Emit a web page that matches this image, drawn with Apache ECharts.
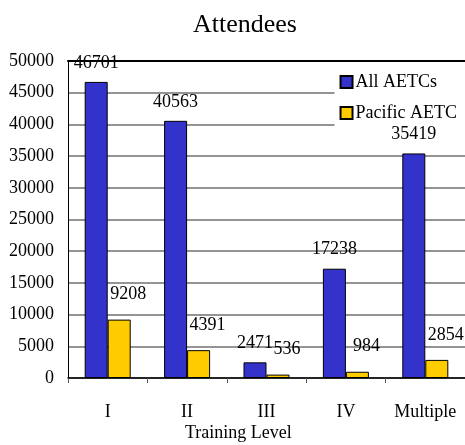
<!DOCTYPE html>
<html>
<head>
    <meta charset="utf-8" />
    <script src="https://cdn.jsdelivr.net/npm/echarts@6/dist/echarts.min.js"></script>
</head>
<body style="margin:0">
<div id="main" style="width: 465px;height:445px;"></div>
<script>
    var levels = ['I', 'II', 'III', 'IV', 'Multiple'];
    var allAetcs = [46701, 40563, 2471, 17238, 35419];
    var pacificAetc = [9208, 4391, 536, 984, 2854];
    var seriesNames = ['All AETCs', 'Pacific AETC'];

    var serif = 'Liberation Serif';
    var chartDom = document.getElementById('main');
    var myChart = echarts.init(chartDom);
    var option;

    option = {
        animation: false,
        title: [{
            text: 'Attendees',
            left: 188,
            top: 7,
            textStyle: { fontFamily: serif, fontSize: 26, fontWeight: 'normal', color: '#000' }
        }, {
            // axis title sits left of the plot centre in the original
            text: 'Training Level',
            left: 185,
            top: 424,
            padding: 0,
            textStyle: { fontFamily: serif, fontSize: 18, fontWeight: 'normal', color: '#000' }
        }],
        legend: {
            orient: 'vertical',
            right: 0,
            top: 63,
            z: 1,
            data: seriesNames,
            backgroundColor: '#fff',
            padding: [10, 8, 9, 5],
            itemWidth: 12,
            itemHeight: 12,
            itemGap: 13,
            icon: 'rect',
            textStyle: { fontFamily: serif, fontSize: 18, color: '#000', padding: [0, 0, 0, -2] }
        },
        grid: {
            left: 68,
            right: 0,
            top: 61,
            bottom: 67
        },
        xAxis: [{
            type: 'category',
            data: levels,
            axisLine: { lineStyle: { color: '#000', width: 1.5 } },
            axisTick: { show: true, length: 5, lineStyle: { color: '#555' } },
            axisLabel: { interval: 0, fontFamily: serif, fontSize: 18, color: '#000', margin: 25 }
        }, {
            type: 'category',
            data: levels,
            position: 'top',
            axisLine: { lineStyle: { color: '#000', width: 2 } },
            axisTick: { show: false },
            axisLabel: { show: false }
        }],
        yAxis: {
            type: 'value',
            min: 0,
            max: 50000,
            interval: 5000,
            axisLine: { show: true, lineStyle: { color: '#000' } },
            axisTick: { show: false },
            axisLabel: {
                fontFamily: serif, fontSize: 18, color: '#000', margin: 14,
                formatter: function (v) { return String(v); }
            },
            splitLine: { lineStyle: { color: '#707070', width: 1.5 } }
        },
        series: [{
            name: seriesNames[0],
            type: 'bar',
            data: allAetcs,
            barWidth: 23,
            barGap: '0%',
            itemStyle: { color: '#3333CC', borderColor: '#000', borderWidth: 1 },
            label: {
                show: true,
                position: 'top',
                distance: 10,
                fontFamily: serif,
                fontSize: 18,
                color: '#000'
            }
        }, {
            name: seriesNames[1],
            type: 'bar',
            data: pacificAetc,
            barWidth: 23,
            itemStyle: { color: '#FFCC00', borderColor: '#000', borderWidth: 1 },
            label: {
                show: true,
                position: 'top',
                distance: 16,
                offset: [9, 0],
                fontFamily: serif,
                fontSize: 18,
                color: '#000'
            }
        }]
    };

    option && myChart.setOption(option);
</script>
</body>
</html>
